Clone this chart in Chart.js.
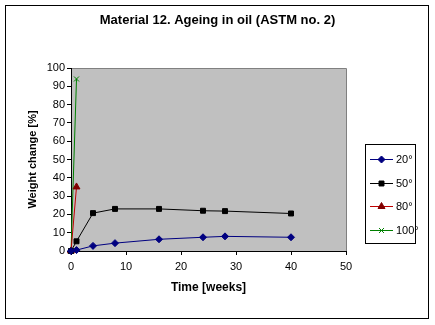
<!DOCTYPE html>
<html>
<head>
<meta charset="utf-8">
<script src="https://cdn.jsdelivr.net/npm/chart.js@4.4.0/dist/chart.umd.min.js"></script>
<style>
  html, body { margin: 0; padding: 0; background: #fff; }
  #wrap { width: 435px; height: 325px; }
</style>
</head>
<body>
<div id="wrap"><canvas id="myChart" width="435" height="325"></canvas></div>
<script>
// data
const seriesNames = ['20°', '50°', '80°', '100°'];
const weeks20 = [0, 1, 4, 8, 16, 24, 28, 40];
const change20 = [0, 0.5, 2.8, 4.3, 6.4, 7.5, 8.0, 7.5];
const weeks50 = [0, 1, 4, 8, 16, 24, 28, 40];
const change50 = [0, 5.3, 20.7, 23, 23, 22, 21.8, 20.5];
const weeks80 = [0, 1];
const change80 = [0, 35];
const weeks100 = [0, 1];
const change100 = [0, 94];
const xTicks = [0, 10, 20, 30, 40, 50];
const yTicks = [0, 10, 20, 30, 40, 50, 60, 70, 80, 90, 100];

function toPoints(xs, ys) {
    return xs.map((x, i) => ({ x: x, y: ys[i] }));
}

const FONT = "'Liberation Sans', Arial, sans-serif";

// white page with a black frame, grey plot area
const framePlugin = {
    id: 'frame',
    afterLayout(chart) {
        // centre the title on the whole page, like excel does
        if (chart.titleBlock) {
            chart.titleBlock.left = 0;
            chart.titleBlock.right = chart.width;
            chart.titleBlock.width = chart.width;
        }
    },
    beforeDraw(chart) {
        const ctx = chart.ctx;
        const a = chart.chartArea;
        ctx.save();
        ctx.fillStyle = '#fff';
        ctx.fillRect(0, 0, chart.width, chart.height);
        ctx.strokeStyle = '#000';
        ctx.lineWidth = 1;
        ctx.strokeRect(5.5, 5.5, 423, 313);
        ctx.fillStyle = '#c0c0c0';
        ctx.fillRect(a.left, a.top, a.right - a.left, a.bottom - a.top);
        ctx.strokeStyle = '#808080';
        ctx.beginPath();
        ctx.moveTo(a.left, a.top + 0.5);
        ctx.lineTo(a.right + 0.5, a.top + 0.5);
        ctx.lineTo(a.right + 0.5, a.bottom);
        ctx.stroke();
        ctx.restore();
    }
};

// Excel style legend: boxed, line with marker
const legendPlugin = {
    id: 'boxLegend',
    afterDraw(chart) {
        const ctx = chart.ctx;
        const bx = 365.5, by = 144.5, bw = 50, bh = 99;
        ctx.save();
        ctx.fillStyle = '#fff';
        ctx.fillRect(bx, by, bw, bh);
        ctx.strokeStyle = '#000';
        ctx.lineWidth = 1;
        ctx.strokeRect(bx, by, bw, bh);
        ctx.font = '11px ' + FONT;
        ctx.textBaseline = 'middle';
        chart.data.datasets.forEach((ds, i) => {
            const y = Math.round(159 + i * 23.7) + 0.5;
            ctx.strokeStyle = ds.borderColor;
            ctx.beginPath();
            ctx.moveTo(370, y);
            ctx.lineTo(393, y);
            ctx.stroke();
            ctx.strokeStyle = ds.pointBorderColor;
            ctx.fillStyle = ds.pointBackgroundColor;
            Chart.helpers.drawPoint(ctx, {
                pointStyle: ds.pointStyle,
                radius: ds.pointRadius,
                rotation: 0,
                borderWidth: 1
            }, 381.5, y);
            ctx.fillStyle = '#000';
            ctx.fillText(ds.label, 396, y + 0.5);
        });
        ctx.restore();
    }
};

const datasets = [
    {
        label: seriesNames[0],
        data: toPoints(weeks20, change20),
        borderColor: '#000080',
        pointBorderColor: '#000080',
        pointBackgroundColor: '#000080',
        pointStyle: 'rectRot',
        pointRadius: 3.5
    },
    {
        label: seriesNames[1],
        data: toPoints(weeks50, change50),
        borderColor: '#000000',
        pointBorderColor: '#000000',
        pointBackgroundColor: '#000000',
        pointStyle: 'rect',
        pointRadius: 3.5
    },
    {
        label: seriesNames[2],
        data: toPoints(weeks80, change80),
        borderColor: '#c00000',
        pointBorderColor: '#800000',
        pointBackgroundColor: '#800000',
        pointStyle: 'triangle',
        pointRadius: 4
    },
    {
        label: seriesNames[3],
        data: toPoints(weeks100, change100),
        borderColor: '#008000',
        pointBorderColor: '#008000',
        pointBackgroundColor: '#008000',
        pointStyle: 'crossRot',
        pointRadius: 3.5
    }
];

datasets.forEach(ds => {
    ds.showLine = true;
    ds.borderWidth = 1;
    ds.pointBorderWidth = 1;
    ds.pointHoverRadius = ds.pointRadius;
    ds.clip = false;
});

window.addEventListener("load", function () {
    const canvas = document.getElementById("myChart");
    const ctx = canvas.getContext("2d");

    new Chart(ctx, {
        type: 'scatter',
        data: { datasets: datasets },
        options: {
            responsive: false,
            animation: false,
            devicePixelRatio: 1,
            layout: { padding: { left: 6, right: 89, top: 0, bottom: 0 } },
            plugins: {
                legend: { display: false },
                tooltip: { enabled: false },
                title: {
                    display: true,
                    text: 'Material 12. Ageing in oil (ASTM no. 2)',
                    color: '#000',
                    font: { family: FONT, size: 13, weight: 'bold' },
                    padding: { top: 13, bottom: 39.4 }
                }
            },
            scales: {
                x: {
                    type: 'linear',
                    min: 0,
                    max: 50,
                    afterBuildTicks: s => { s.ticks = xTicks.map(v => ({ value: v })); },
                    afterFit: s => { s.height = 74; },
                    ticks: {
                        color: '#000',
                        font: { family: FONT, size: 11 },
                        padding: 5,
                        maxRotation: 0
                    },
                    grid: {
                        display: true,
                        drawOnChartArea: false,
                        drawTicks: true,
                        tickLength: 4,
                        color: '#000'
                    },
                    border: { display: true, color: '#000', width: 1 },
                    title: {
                        display: true,
                        text: 'Time [weeks]',
                        color: '#000',
                        font: { family: FONT, size: 12, weight: 'bold' },
                        padding: { top: 0, bottom: 30 }
                    }
                },
                y: {
                    type: 'linear',
                    min: 0,
                    max: 100,
                    afterBuildTicks: s => { s.ticks = yTicks.map(v => ({ value: v })); },
                    afterFit: s => { s.width = 65; },
                    ticks: {
                        color: '#000',
                        font: { family: FONT, size: 11 },
                        padding: 2
                    },
                    grid: {
                        display: true,
                        drawOnChartArea: false,
                        drawTicks: true,
                        tickLength: 4,
                        color: '#000'
                    },
                    border: { display: true, color: '#000', width: 1 },
                    title: {
                        display: true,
                        text: 'Weight change [%]',
                        color: '#000',
                        font: { family: FONT, size: 11, weight: 'bold' },
                        padding: { top: 20.4, bottom: 0 }
                    }
                }
            }
        },
        plugins: [framePlugin, legendPlugin]
    });
});
</script>
</body>
</html>
